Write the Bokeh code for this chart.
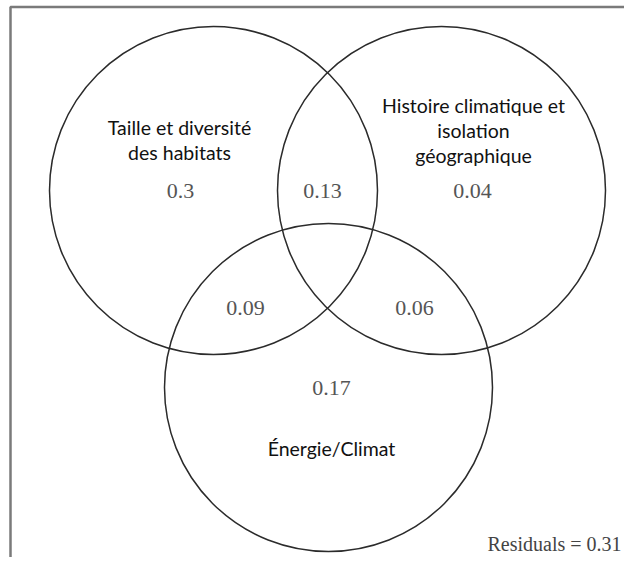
from bokeh.plotting import figure
from bokeh.models import Range1d, ColumnDataSource
from bokeh.core.properties import value
from bokeh.embed import file_html
from bokeh.resources import INLINE

# ---- data ----
set_names = ["Taille et diversité\ndes habitats",
             "Histoire climatique et\nisolation\ngéographique",
             "Énergie/Climat"]
region_keys = ["A", "AB", "B", "AC", "BC", "C"]
region_values = [0.3, 0.13, 0.04, 0.09, 0.06, 0.17]
residuals = 0.31

# ---- layout (pixel space, y downward) ----
W, H = 624, 557
circle_x = [213, 441, 328]
circle_y = [190, 190, 387]
circle_r = 164

region_x = [180, 322, 472, 245, 414, 331]
region_y = [190, 190, 190, 307, 307, 387]

name_x = [179, 473, 331]
name_first_baseline = [127, 105, 448]
line_step = 25

p = figure(width=W, height=H, output_backend="svg", toolbar_location=None,
           x_range=Range1d(0, W), y_range=Range1d(H, 0),
           min_border=0, outline_line_color=None)
p.axis.visible = False
p.grid.visible = False
p.background_fill_color = "white"
p.border_fill_color = "white"

# frame (left and top edges visible)
p.line(x=[10, 10, W + 5], y=[H + 5, 6.5, 6.5], line_color="#7a7a7a", line_width=2.5)

# circles
p.circle(x=circle_x, y=circle_y, radius=circle_r, fill_color=None,
         line_color="#2b2b2b", line_width=1.5)

# region values
src = ColumnDataSource(dict(x=region_x, y=region_y,
                            t=[f"{v:g}" for v in region_values]))
p.text(x="x", y="y", text="t", source=src, text_font=value("Liberation Serif"),
       text_font_size="22px", text_color="#555555", text_align="center",
       text_baseline="middle")

# set names
lx, ly, lt = [], [], []
for name, cx, b in zip(set_names, name_x, name_first_baseline):
    for i, line in enumerate(name.split("\n")):
        lx.append(cx)
        ly.append(b + i * line_step)
        lt.append(line)
p.text(x=lx, y=ly, text=lt, text_font=value("Lato"), text_font_size="19.5px",
       text_color="#111111", text_align="center", text_baseline="alphabetic")

# residuals
p.text(x=[621], y=[543], text=[f"Residuals = {residuals:g}"],
       text_font=value("Liberation Serif"), text_font_size="20px",
       text_color="#444444", text_align="right", text_baseline="middle")

open("out.html", "w").write(file_html(p, INLINE))
